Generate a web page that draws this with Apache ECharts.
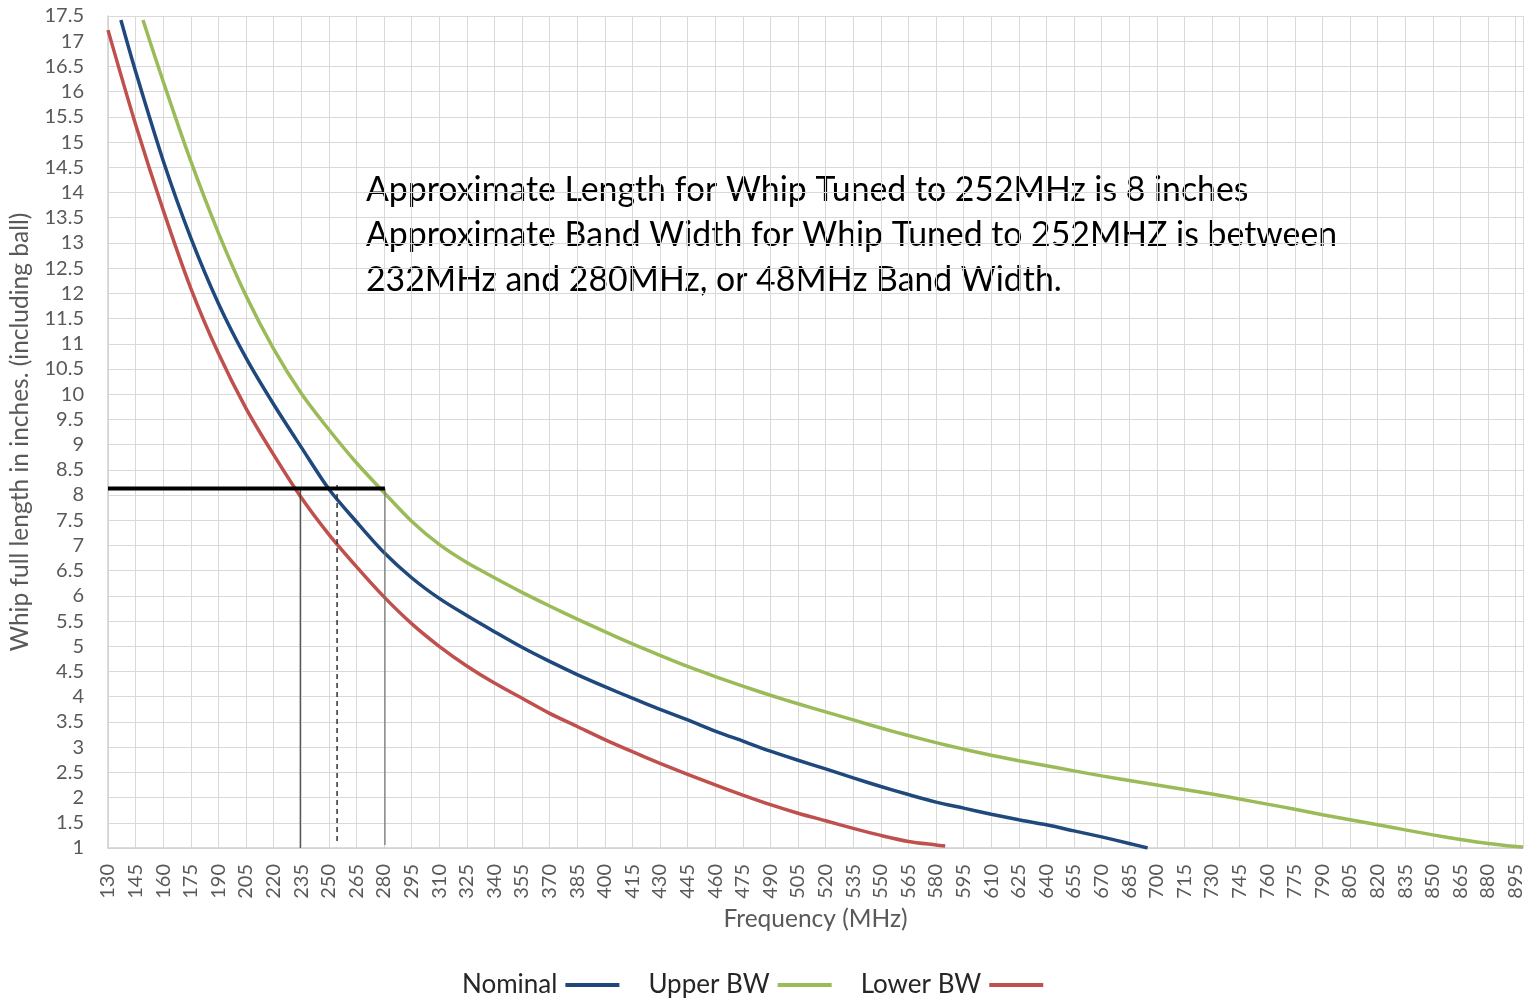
<!DOCTYPE html>
<html>
<head>
<meta charset="utf-8">
<script src="https://cdn.jsdelivr.net/npm/echarts@6/dist/echarts.min.js"></script>
<style>
html,body{margin:0;padding:0;background:#fff;}
#chart{width:1535px;height:998px;}
</style>
</head>
<body>
<div id="chart"></div>
<script>
// Frequency axis: first category, last category and label step (MHz)
const xMin = 130, xMax = 899, xStep = 15;
// Tick labels shown on the frequency axis
const xTicks = [130,145,160,175,190,205,220,235,250,265,280,295,310,325,340,355,370,385,400,415,430,445,460,475,490,505,520,535,550,565,580,595,610,625,640,655,670,685,700,715,730,745,760,775,790,805,820,835,850,865,880,895];

// Nominal
const nominalFreq = [137,145,160,175,190,205,220,235,250,265,280,295,310,325,340,355,370,385,400,415,430,445,460,475,490,505,520,535,550,565,580,595,610,625,640,655,670,685,695];
const nominalLen  = [17.42,16.4,14.63,13.1,11.8,10.72,9.8,8.95,8.12,7.47,6.86,6.36,5.95,5.61,5.29,4.98,4.7,4.44,4.2,3.97,3.75,3.54,3.32,3.12,2.92,2.74,2.57,2.39,2.22,2.06,1.91,1.79,1.67,1.56,1.46,1.34,1.22,1.09,1.0];

// Upper BW
const upperFreq = [149,160,175,190,205,220,235,250,265,280,295,310,325,340,355,370,385,400,415,430,445,460,475,490,505,520,535,550,565,580,595,610,625,640,655,670,685,700,715,730,745,760,775,790,805,820,835,850,865,880,895,899];
const upperLen  = [17.42,16.2,14.62,13.2,11.95,10.9,10.02,9.3,8.64,8.05,7.48,7.02,6.66,6.36,6.07,5.8,5.54,5.29,5.05,4.82,4.6,4.4,4.21,4.03,3.86,3.7,3.54,3.38,3.23,3.09,2.96,2.84,2.73,2.63,2.53,2.43,2.34,2.25,2.16,2.07,1.97,1.87,1.77,1.66,1.56,1.46,1.36,1.26,1.17,1.09,1.03,1.02];

// Lower BW
const lowerFreq = [130,145,160,175,190,205,220,235,250,265,280,295,310,325,340,355,370,385,400,415,430,445,460,475,490,505,520,535,550,565,580,585];
const lowerLen  = [17.22,15.35,13.65,12.1,10.81,9.72,8.8,7.95,7.22,6.58,5.98,5.45,5.0,4.61,4.27,3.97,3.67,3.41,3.15,2.91,2.68,2.46,2.25,2.05,1.86,1.69,1.54,1.39,1.25,1.13,1.06,1.04];

// Annotation guide lines (MHz, inches)
const markLen = 8.13;
const markHoriz = [[130, markLen],[280.5, markLen]];
const markLowVert = [[234.5, markLen],[234.5, 1.0]];
const markNomVert = [[254.5, 8.2],[254.5, 1.06]];
const markUpVert = [[280.5, markLen],[280.5, 1.06]];

const annotationLines = [
  'Approximate Length for Whip Tuned to 252MHz is 8 inches',
  'Approximate Band Width for Whip Tuned to 252MHZ is between',
  '232MHz and 280MHz, or 48MHz Band Width.'
];

// The axis counts MHz from the first category, so its ticks fall on 130, 145, 160 ...
function pairs(xs, ys){ return xs.map((x,i)=>[x - xMin, ys[i]]); }
function ptPairs(pts){ return pts.map(p=>[p[0] - xMin, p[1]]); }

const chart = echarts.init(document.getElementById('chart'));
const axisFont = 'Lato, "Open Sans", sans-serif';
const gridColor = '#d9d9d9';

chart.setOption({
  animation: false,
  backgroundColor: '#ffffff',
  grid: {left: 107, right: 12, top: 16, bottom: 150, containLabel: false},
  xAxis: {
    type: 'value', min: 0, max: xMax - xMin, interval: xStep,
    name: 'Frequency (MHz)', nameLocation: 'middle', nameGap: 57,
    nameTextStyle: {color: '#595959', fontSize: 24.5, fontFamily: axisFont},
    axisLine: {show: true, lineStyle: {color: '#d0d0d0', width: 1.5}},
    axisTick: {show: false},
    axisLabel: {rotate: 90, margin: 16, color: '#595959', fontSize: 20, fontFamily: axisFont,
      showMaxLabel: false,
      formatter: function(v){ const f = Math.round(v + xMin); return xTicks.indexOf(f) >= 0 ? String(f) : ''; }},
    splitLine: {show: true, lineStyle: {color: gridColor, width: 1}}
  },
  yAxis: {
    type: 'value', min: 1, max: 17.5, interval: 0.5,
    name: 'Whip full length in inches. (including ball)', nameLocation: 'middle', nameGap: 75,
    nameTextStyle: {color: '#595959', fontSize: 24.5, fontFamily: axisFont},
    axisLine: {show: true, lineStyle: {color: '#d0d0d0', width: 1.5}},
    axisTick: {show: false},
    axisLabel: {margin: 24, color: '#595959', fontSize: 20, fontFamily: axisFont},
    splitLine: {show: true, lineStyle: {color: gridColor, width: 1}}
  },
  legend: {
    data: ['Nominal', 'Upper BW', 'Lower BW'],
    bottom: -5, left: 457,
    align: 'right',
    icon: 'rect', itemWidth: 54, itemHeight: 4, itemGap: 29,
    textStyle: {color: '#262626', fontSize: 26, fontFamily: 'Lato, sans-serif', padding: [0, 3, 0, 0]}
  },
  graphic: [{
    type: 'text', left: 366, top: 168, silent: true,
    style: {
      text: annotationLines.join('\n'),
      fill: '#000', font: '33.8px Lato, sans-serif', lineHeight: 45
    }
  }],
  series: [
    {name: 'Upper BW', type: 'line', data: pairs(upperFreq, upperLen), smooth: 0.3, showSymbol: false,
     lineStyle: {color: '#9bbb59', width: 3.5}, itemStyle: {color: '#9bbb59'}},
    {name: 'Lower BW', type: 'line', data: pairs(lowerFreq, lowerLen), smooth: 0.3, showSymbol: false,
     lineStyle: {color: '#c0504d', width: 3.5}, itemStyle: {color: '#c0504d'}},
    {name: 'Nominal', type: 'line', data: pairs(nominalFreq, nominalLen), smooth: 0.3, showSymbol: false,
     lineStyle: {color: '#1f497d', width: 3.5}, itemStyle: {color: '#1f497d'}},
    {name: 'guideLow', type: 'line', data: ptPairs(markLowVert), showSymbol: false, silent: true,
     lineStyle: {color: '#404040', width: 1.2}},
    {name: 'guideNom', type: 'line', data: ptPairs(markNomVert), showSymbol: false, silent: true,
     lineStyle: {color: '#303030', width: 1.5, type: [5, 4]}},
    {name: 'guideUp', type: 'line', data: ptPairs(markUpVert), showSymbol: false, silent: true,
     lineStyle: {color: '#707070', width: 1.2}},
    {name: 'guideH', type: 'line', data: ptPairs(markHoriz), showSymbol: false, silent: true,
     lineStyle: {color: '#000000', width: 4}}
  ]
});
</script>
</body>
</html>
